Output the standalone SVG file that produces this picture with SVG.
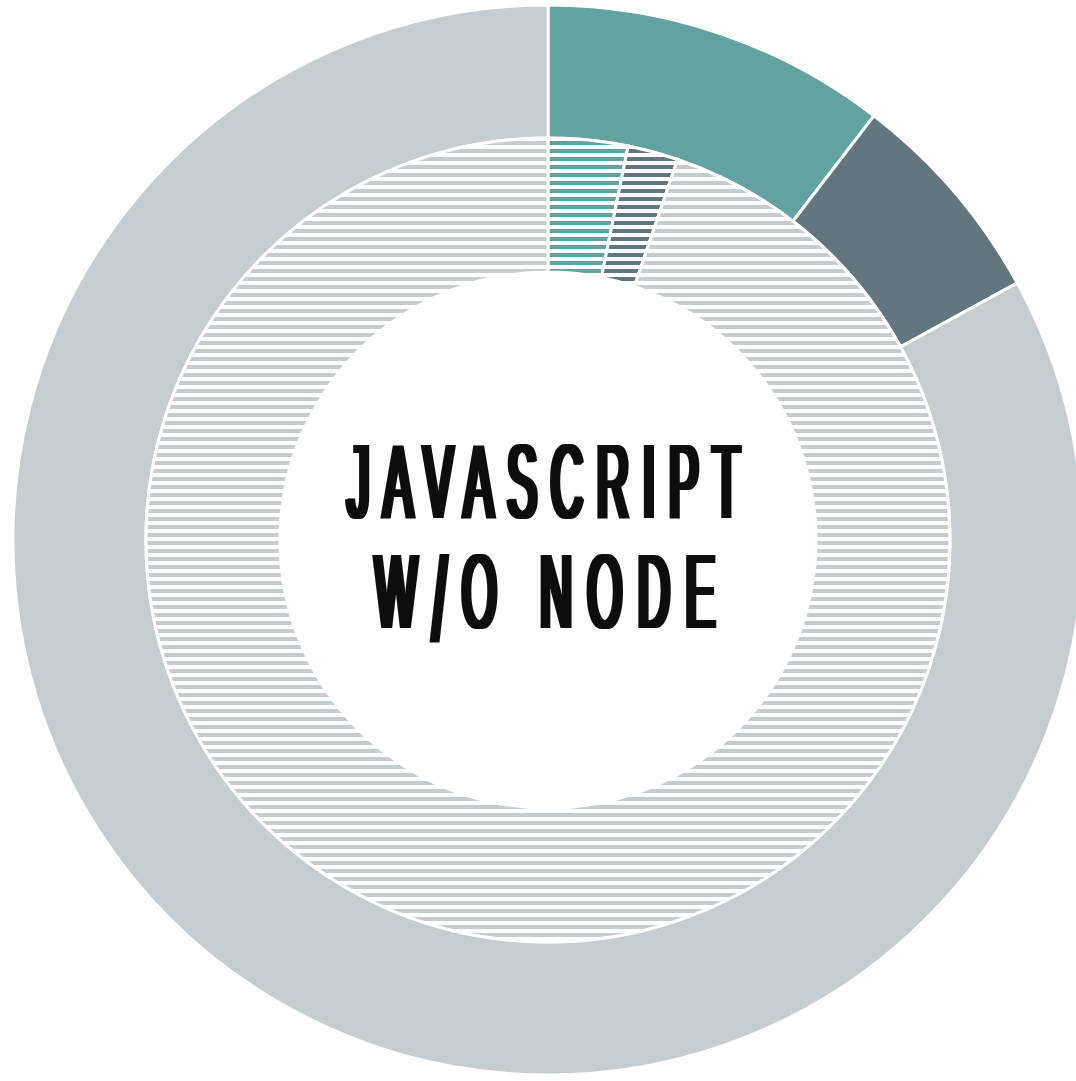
<svg xmlns="http://www.w3.org/2000/svg" width="1076" height="1081" viewBox="0 0 1076 1081">
  <style>
    .seg { stroke: #ffffff; stroke-width: 3; stroke-linejoin: miter; }
    .teal { fill: #63a39f; }
    .slate { fill: #63757d; }
    .grey { fill: #c5cdd0; }
    .label { font-family: 'Liberation Sans', Arial, sans-serif; font-weight: 400; font-size: 106px; fill: #0a0a0a; }
  </style>
  <defs>
    <pattern id="stripeTeal" patternUnits="userSpaceOnUse" x="0" y="0" width="8" height="8">
      <rect x="0" y="5" width="8" height="4" fill="#63a39f"/>
      <rect x="0" y="-3" width="8" height="4" fill="#63a39f"/>
    </pattern>
    <pattern id="stripeSlate" patternUnits="userSpaceOnUse" x="0" y="0" width="8" height="8">
      <rect x="0" y="5" width="8" height="4" fill="#63757d"/>
      <rect x="0" y="-3" width="8" height="4" fill="#63757d"/>
    </pattern>
    <pattern id="stripeGrey" patternUnits="userSpaceOnUse" x="0" y="0" width="8" height="8">
      <rect x="0" y="5" width="8" height="4" fill="#c5cdd0"/>
      <rect x="0" y="-3" width="8" height="4" fill="#c5cdd0"/>
    </pattern>
    <filter id="thicken" x="-5%" y="-5%" width="110%" height="110%">
      <feMorphology operator="dilate" radius="3 0"/>
    </filter>
  </defs>
  <rect width="1076" height="1081" fill="#ffffff"/>
  <g id="outer-ring">
    <path id="outer-teal" class="seg teal" d="M548,5 A535,535 0 0 1 873.98,115.80 L792.94,221.25 A402,402 0 0 0 548,138 Z"/>
    <path id="outer-slate" class="seg slate" d="M873.98,115.80 A535,535 0 0 1 1017.2,282.93 L900.55,346.84 A402,402 0 0 0 792.94,221.25 Z"/>
    <path id="outer-grey" class="seg grey" d="M1017.2,282.93 A535,535 0 1 1 548,5 L548,138 A402,402 0 1 0 900.55,346.84 Z"/>
  </g>
  <g id="inner-ring">
    <path id="inner-teal" class="seg" fill="url(#stripeTeal)" d="M548,138 A402,402 0 0 1 628.16,146.08 L601.44,277.39 A268,268 0 0 0 548,272 Z"/>
    <path id="inner-slate" class="seg" fill="url(#stripeSlate)" d="M628.16,146.08 A402,402 0 0 1 677.56,159.47 L634.38,286.31 A268,268 0 0 0 601.44,277.39 Z"/>
    <path id="inner-grey" class="seg" fill="url(#stripeGrey)" d="M677.56,159.47 A402,402 0 1 1 548,138 L548,272 A268,268 0 1 0 634.38,286.31 Z"/>
  </g>
  <g id="center-label" filter="url(#thicken)">
    <g transform="scale(0.42,1)">
      <text class="label" x="1294" y="518" text-anchor="middle" textLength="935" lengthAdjust="spacing">JAVASCRIPT</text>
      <text class="label" x="1297.6" y="628" text-anchor="middle" textLength="810" lengthAdjust="spacing">W<tspan font-size="120" dy="13">/</tspan><tspan dy="-13">O NODE</tspan></text>
    </g>
  </g>
</svg>
